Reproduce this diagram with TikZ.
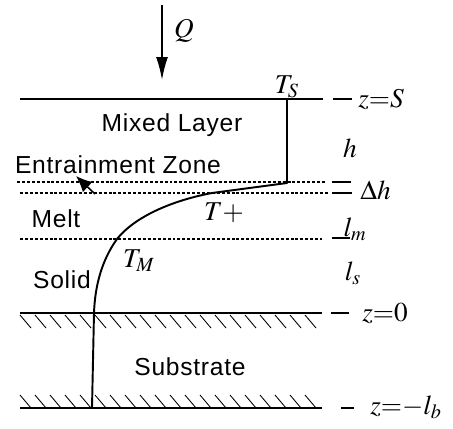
\documentclass[tikz,border=0pt]{standalone}
\usepackage{mathptmx}
\usepackage{fontspec}
\setmainfont{Liberation Serif}
\newfontfamily\layerfont[LetterSpace=3]{Liberation Sans}
\usetikzlibrary{arrows.meta}

\begin{document}
\begin{tikzpicture}[
    x=0.02cm, y=-0.02cm,
    layer/.style={font=\layerfont\fontsize{14}{16}\selectfont, inner sep=0pt},
    sym/.style={font=\fontsize{15.5}{18}\selectfont, inner sep=0pt},
    face/.style={line width=1.1pt},
    zone/.style={line width=0.8pt, dash pattern=on 1.7pt off 1.1pt},
    tick/.style={line width=0.7pt},
    hatch/.style={line width=0.5pt},
    profile/.style={line width=1.1pt, line join=round}
]
\useasboundingbox (0,0) rectangle (453,429);

% heat flux
\coordinate (qtop) at (162,5);
\coordinate (qtip) at (162,80);
\draw[line width=1pt, -{Latex[length=4.6mm,width=2.4mm]}] (qtop) -- (qtip);
\node[sym] (q) at (184,31) {$Q$};

% interfaces
\coordinate (sl) at (20,99);   \coordinate (sr) at (323,99);
\coordinate (el) at (17,182);  \coordinate (er) at (326,182);
\coordinate (fl) at (20,193);  \coordinate (fr) at (328,193);
\coordinate (ml) at (20,239);  \coordinate (mr) at (322,239);
\coordinate (zl) at (20,313);  \coordinate (zr) at (322,313);
\coordinate (bl) at (20,408);  \coordinate (br) at (322,408);

\draw[face] (sl) -- (sr);
\draw[zone] (el) -- (er);
\draw[zone] (fl) -- (fr);
\draw[zone] (ml) -- (mr);
\draw[face] (zl) -- (zr);
\draw[face] (bl) -- (br);

% hatching
\foreach \x in {20,35,...,305} {
    \draw[hatch] (\x,315) -- ++(11,13);
    \draw[hatch] (\x,395) -- ++(11,13);
}

% labels at the right
\node[sym, anchor=west] (zs) at (358,99) {$z{=}S$};
\node[sym] (h) at (350,148) {$h$};
\node[sym, anchor=west] (dh) at (360,190) {$\Delta h$};
\node[sym] (lm) at (355,229) {$l_m$};
\node[sym] (ls) at (353,273) {$l_s$};
\node[sym, anchor=west] (z0) at (362,313) {$z{=}0$};
\node[sym, anchor=west] (zb) at (370,407) {$z{=}{-}l_b$};

\draw[tick] (333,99) -- (352,99);
\draw[tick] (332,182) -- (351,182);
\draw[tick] (332,193) -- (352,193);
\draw[tick] (332,238) -- (350,238);
\draw[tick] (331,313) -- (349,313);
\draw[tick] (341,408) -- (354,408);

% layer names
\node[layer] (mixed) at (172,125) {Mixed Layer};
\node[layer] (entr) at (118,165) {Entrainment Zone};
\node[layer] (melt) at (56,219) {Melt};
\node[layer] (solid) at (62,280) {Solid};
\node[layer] (sub) at (190,367) {Substrate};

% entrainment arrow
\coordinate (etail) at (95,194);
\coordinate (ehead) at (76,176);
\draw[line width=0.9pt, -{Latex[length=3.2mm,width=2.8mm]}] (etail) -- (ehead);

% temperature profile
\coordinate (ts) at (287,99);
\coordinate (tp) at (287,183);
\coordinate (tm) at (117,239);
\coordinate (tz) at (94,313);
\coordinate (tb) at (92,408);
\draw[profile] (ts) -- (tp) -- (212,193)
    .. controls (165,202) and (132,220) .. (tm)
    .. controls (102,260) and (95,285) .. (tz) -- (tb);

\node[sym] (tslab) at (287,87) {$T_S$};
\node[sym] (tplab) at (224,213) {$T+$};
\node[sym] (tmlab) at (139,261) {$T_M$};
\end{tikzpicture}
\end{document}
